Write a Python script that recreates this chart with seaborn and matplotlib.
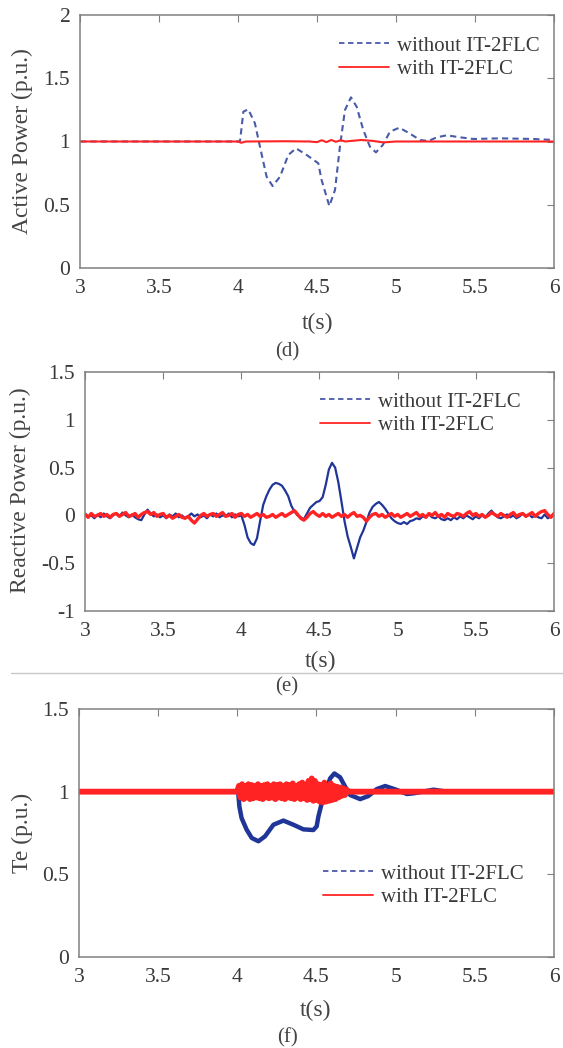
import matplotlib
matplotlib.use("Agg")
import matplotlib.pyplot as plt
from matplotlib.lines import Line2D
from matplotlib.ticker import FuncFormatter
import numpy as np
import pandas as pd
import seaborn as sns

# ---- (d) active power ----
t_p_blue = [3.0, 4.0, 4.013, 4.034, 4.065, 4.107, 4.139, 4.181, 4.219, 4.266, 4.318, 4.367,
            4.435, 4.508, 4.529, 4.578, 4.614, 4.645, 4.677, 4.715, 4.751, 4.793, 4.835,
            4.873, 4.916, 4.962, 5.021, 5.078, 5.152, 5.205, 5.258, 5.321, 5.405, 5.49,
            5.658, 5.87, 6.0]
p_blue = [1.0, 1.0, 1.004, 1.236, 1.254, 1.144, 0.959, 0.722, 0.648, 0.722, 0.893, 0.946,
          0.893, 0.828, 0.696, 0.49, 0.617, 0.959, 1.249, 1.349, 1.275, 1.091, 0.959,
          0.914, 0.972, 1.078, 1.109, 1.07, 1.012, 1.004, 1.033, 1.049, 1.033, 1.02,
          1.025, 1.02, 1.012]
t_p_red = [3.0, 4.0, 4.02, 4.05, 4.3, 4.45, 4.5, 4.53, 4.56, 4.59, 4.62, 4.65, 4.68,
           4.72, 4.78, 4.85, 4.92, 5.0, 6.0]
p_red = [1.0, 1.0, 0.99, 1.0, 1.002, 1.0, 0.995, 1.01, 0.995, 1.012, 0.998, 1.01, 1.0,
         1.005, 1.012, 1.005, 0.993, 1.0, 1.0]

# ---- (e) reactive power, sampled every 0.02 s from 3 to 6 ----
t_q = np.round(np.arange(3.0, 6.0001, 0.02), 2)
q_blue = [
    0.02, -0.01, 0.00, -0.03, 0.01, -0.02, 0.02, -0.01, -0.03, 0.00,
    0.02, -0.01, 0.03, 0.00, -0.02, 0.01, -0.02, -0.04, -0.05, 0.01,
    0.06, 0.02, -0.01, 0.01, -0.02, 0.00, -0.03, 0.01, -0.01, 0.02,
    -0.02, 0.00, -0.03, -0.01, 0.02, -0.01, 0.01, -0.02, 0.00, -0.03,
    0.01, -0.01, 0.02, -0.02, 0.00, -0.01, 0.02, -0.02, 0.01, -0.01,
    0.00, -0.10, -0.23, -0.29, -0.31, -0.24, -0.06, 0.11, 0.20, 0.27,
    0.32, 0.34, 0.33, 0.31, 0.26, 0.20, 0.10, 0.04, 0.00, -0.02,
    -0.04, 0.02, 0.08, 0.11, 0.14, 0.15, 0.19, 0.32, 0.48, 0.55,
    0.50, 0.35, 0.15, -0.06, -0.22, -0.33, -0.45, -0.34, -0.23, -0.16,
    -0.07, 0.03, 0.09, 0.12, 0.14, 0.11, 0.07, 0.02, -0.03, -0.06,
    -0.08, -0.09, -0.07, -0.09, -0.06, -0.05, -0.03, -0.04, -0.01, -0.02,
    0.01, -0.02, -0.03, -0.01, -0.04, -0.05, -0.03, -0.05, -0.02, -0.04,
    -0.01, -0.03, 0.00, -0.02, -0.04, -0.01, -0.03, 0.00, -0.02, 0.02,
    0.05, 0.01, -0.02, -0.03, -0.01, 0.01, -0.02, 0.00, -0.03, -0.01,
    0.02, -0.01, 0.01, -0.02, 0.00, -0.02, -0.03, 0.01, -0.03, -0.01,
    0.02]
q_red = [
    0.01, -0.02, 0.02, -0.01, 0.00, 0.02, -0.01, 0.01, -0.02, 0.01,
    0.02, -0.01, 0.01, 0.03, -0.01, 0.00, 0.02, -0.02, 0.01, 0.03,
    0.04, 0.01, 0.03, -0.01, 0.01, 0.02, -0.02, 0.00, -0.03, -0.01,
    0.01, -0.02, -0.03, -0.01, -0.05, -0.08, -0.04, 0.00, 0.02, -0.01,
    0.01, 0.02, -0.01, 0.01, 0.03, -0.01, 0.00, 0.02, -0.02, 0.01,
    0.02, -0.01, 0.01, -0.02, 0.00, 0.02, -0.01, 0.01, -0.02, -0.01,
    0.01, -0.02, 0.00, 0.02, -0.01, 0.01, 0.03, 0.05, 0.01, -0.03,
    -0.05, -0.02, 0.02, 0.04, 0.01, -0.01, 0.02, -0.01, 0.01, -0.02,
    0.00, 0.02, -0.01, 0.01, -0.02, 0.01, 0.03, -0.01, 0.00, -0.02,
    -0.06, -0.02, 0.01, 0.02, -0.01, 0.01, -0.02, 0.00, 0.02, -0.01,
    0.01, -0.02, 0.00, 0.02, -0.01, 0.01, 0.03, -0.01, 0.01, -0.02,
    0.02, 0.00, 0.03, -0.01, 0.01, -0.02, 0.02, 0.00, -0.01, 0.02,
    0.01, -0.01, 0.02, 0.04, 0.00, 0.02, -0.01, 0.01, -0.02, 0.00,
    0.03, 0.01, -0.01, 0.02, 0.00, -0.02, 0.01, 0.03, -0.01, 0.01,
    0.02, -0.01, 0.01, 0.03, -0.01, 0.02, 0.04, 0.05, 0.01, -0.02,
    0.02]

# ---- (f) electromagnetic torque ----
t_te_blue = [3.0, 4.0, 4.006, 4.013, 4.027, 4.059, 4.091, 4.133, 4.175, 4.228, 4.291,
             4.354, 4.417, 4.48, 4.501, 4.512, 4.533, 4.554, 4.586, 4.613, 4.649, 4.681,
             4.712, 4.776, 4.828, 4.881, 4.934, 4.997, 5.071, 5.113, 5.239, 5.323, 6.0]
te_blue = [1.0, 1.0, 0.99, 0.91, 0.84, 0.77, 0.72, 0.70, 0.73, 0.80, 0.825,
           0.80, 0.772, 0.768, 0.79, 0.85, 0.93, 0.99, 1.08, 1.11, 1.087, 1.03,
           0.98, 0.955, 0.974, 1.016, 1.034, 1.014, 0.986, 0.99, 1.012, 1.0, 1.0]
# red burst between 4.0 s and 4.7 s, every 0.01 s
t_te_burst = np.round(np.arange(4.0, 4.7001, 0.01), 2)
te_burst = [
    1.00, 1.035, 0.965, 1.045, 0.955, 1.035, 0.965, 1.045, 0.955, 1.04,
    0.96, 1.035, 0.965, 1.045, 0.96, 1.035, 0.955, 1.04, 0.965, 1.045,
    0.96, 1.035, 0.965, 1.045, 0.955, 1.04, 0.965, 1.045, 0.96, 1.035,
    0.955, 1.045, 0.965, 1.04, 0.96, 1.05, 0.955, 1.035, 0.965, 1.045,
    0.955, 1.055, 0.96, 1.04, 0.95, 1.065, 0.955, 1.08, 0.945, 1.065,
    0.95, 1.045, 0.94, 1.04, 0.935, 1.055, 0.94, 1.035, 0.945, 1.05,
    0.95, 1.035, 0.955, 1.03, 0.965, 1.025, 0.975, 1.02, 0.98, 1.012,
    1.0]
t_te_red = np.concatenate([[3.0, 3.99], t_te_burst, [4.72, 6.0]])
te_red = [1.0, 1.0] + te_burst + [1.0, 1.0]

xticks = [3, 3.5, 4, 4.5, 5, 5.5, 6]
legend_labels = ["without IT-2FLC", "with IT-2FLC"]

W, H = 563, 1048
BLUE_D = "#4a5ba8"
BLUE = "#1f3597"
RED = "#ff2323"
GREY = "#808080"
TXT = "#3a3a3a"

sns.set_theme(style="white")
plt.rcParams["font.family"] = ["Liberation Serif", "DejaVu Serif"]
plt.rcParams["axes.unicode_minus"] = False

fig = plt.figure(figsize=(W / 100, H / 100), dpi=100)


def px_axes(left, top, right, bottom):
    return fig.add_axes([left / W, 1 - bottom / H, (right - left) / W, (bottom - top) / H])


def style(ax, ylim, yticks):
    ax.set_xlim(3, 6)
    ax.set_ylim(*ylim)
    ax.set_xticks(xticks)
    ax.set_yticks(yticks)
    fmt = FuncFormatter(lambda v, _: f"{v:g}")
    ax.xaxis.set_major_formatter(fmt)
    ax.yaxis.set_major_formatter(fmt)
    ax.tick_params(direction="in", length=5, width=0.8, color=GREY, labelsize=15.5,
                   labelcolor=TXT, top=True, right=True)
    ax.tick_params(axis="x", pad=8)
    ax.tick_params(axis="y", pad=7)
    for s in ax.spines.values():
        s.set_color(GREY)
        s.set_linewidth(1.1)
    ax.set_xlabel("")
    ax.set_ylabel("")


def legend(ax, x_px, top_px):
    handles = [Line2D([], [], color=BLUE_D, lw=1.3, linestyle=(0, (3, 2))),
               Line2D([], [], color=RED, lw=1.3)]
    ax.legend(handles, legend_labels, loc="upper left", frameon=False,
              bbox_to_anchor=(x_px / W, 1 - top_px / H), bbox_transform=fig.transFigure,
              fontsize=15, handlelength=2.4, handletextpad=0.4, labelspacing=0.2,
              borderpad=0, borderaxespad=0, labelcolor=TXT)


def label_text(x_px, y_px, s, rot=0, size=17):
    fig.text(x_px / W, 1 - y_px / H, s, ha="center", va="center", rotation=rot,
             fontsize=size, color="#454545")


# (d)
ax = px_axes(80, 15, 554, 268)
sns.lineplot(x=t_p_blue, y=p_blue, ax=ax, color=BLUE_D, lw=1.5, dashes=False,
             linestyle=(0, (3, 2)), estimator=None)
sns.lineplot(x=t_p_red, y=p_red, ax=ax, color=RED, lw=1.5, estimator=None)
style(ax, (0, 2), [0, 0.5, 1, 1.5, 2])
legend(ax, 339, 36)
label_text(22, 141, "Active Power (p.u.)", rot=90)
label_text(318, 323, "t(s)")
label_text(287, 352, "(d)", size=15)

# (e)
ax = px_axes(85, 372, 554, 611)
sns.lineplot(x=t_q, y=q_blue, ax=ax, color=BLUE, lw=1.6, estimator=None)
sns.lineplot(x=t_q, y=q_red, ax=ax, color=RED, lw=2.4, estimator=None)
style(ax, (-1, 1.5), [-1, -0.5, 0, 0.5, 1, 1.5])
legend(ax, 320, 392)
label_text(20, 490, "Reactive Power (p.u.)", rot=90)
label_text(321, 661, "t(s)")
label_text(287, 687, "(e)", size=15)
fig.add_artist(Line2D([11 / W, 1], [1 - 673 / H, 1 - 673 / H], transform=fig.transFigure,
                      color="#c8c8c8", lw=1))

# (f)
ax = px_axes(79, 709, 554, 957)
sns.lineplot(x=t_te_blue, y=te_blue, ax=ax, color=BLUE, lw=3.2, estimator=None)
sns.lineplot(x=t_te_red, y=te_red, ax=ax, color=RED, lw=4.2, estimator=None)
style(ax, (0, 1.5), [0, 0.5, 1, 1.5])
legend(ax, 323, 864)
label_text(22, 833, "Te (p.u.)", rot=90)
label_text(316, 1010, "t(s)")
label_text(287, 1038, "(f)", size=15)

fig.savefig("out.png", dpi=100)
